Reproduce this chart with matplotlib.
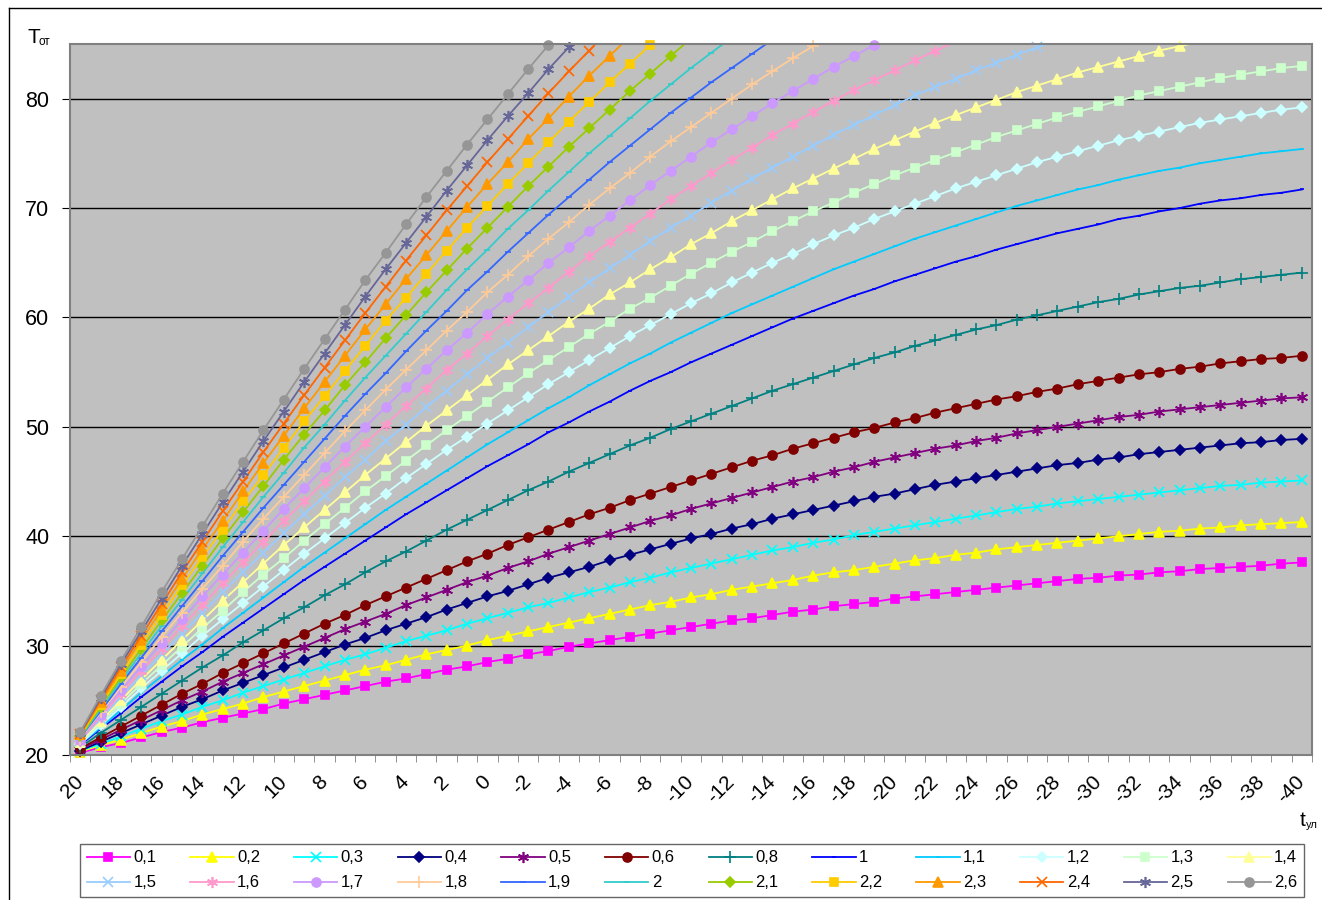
import numpy as np
import matplotlib
matplotlib.use('Agg')
import matplotlib.pyplot as plt
from matplotlib.lines import Line2D

# outdoor temperature categories, 20 .. -40
t_out = list(range(20, -41, -1))

# supply temperature per curve (points above 85 are cut off by the axis)
T_0_1 = [20.2, 20.7, 21.1, 21.6, 22.1, 22.5, 23.0, 23.4, 23.8, 24.2,
         24.7, 25.1, 25.5, 25.9, 26.3, 26.7, 27.0, 27.4, 27.8, 28.1,
         28.5, 28.8, 29.2, 29.5, 29.9, 30.2, 30.5, 30.8, 31.1, 31.4,
         31.7, 32.0, 32.3, 32.5, 32.8, 33.1, 33.3, 33.6, 33.8, 34.0,
         34.3, 34.5, 34.7, 34.9, 35.1, 35.3, 35.5, 35.7, 35.9, 36.1,
         36.2, 36.4, 36.5, 36.7, 36.8, 37.0, 37.1, 37.2, 37.3, 37.5, 37.6]
T_0_2 = [20.3, 20.9, 21.4, 22.0, 22.6, 23.1, 23.7, 24.2, 24.7, 25.3,
         25.8, 26.3, 26.8, 27.3, 27.8, 28.2, 28.7, 29.2, 29.6, 30.0,
         30.5, 30.9, 31.3, 31.7, 32.1, 32.5, 32.9, 33.3, 33.7, 34.0,
         34.4, 34.7, 35.1, 35.4, 35.7, 36.0, 36.4, 36.7, 36.9, 37.2,
         37.5, 37.8, 38.0, 38.3, 38.5, 38.8, 39.0, 39.2, 39.4, 39.6,
         39.8, 40.0, 40.2, 40.4, 40.5, 40.7, 40.8, 41.0, 41.1, 41.2, 41.3]
T_0_3 = [20.4, 21.0, 21.7, 22.4, 23.1, 23.7, 24.4, 25.0, 25.7, 26.3,
         26.9, 27.5, 28.1, 28.7, 29.2, 29.8, 30.4, 30.9, 31.4, 32.0,
         32.5, 33.0, 33.5, 33.9, 34.4, 34.9, 35.3, 35.8, 36.2, 36.7,
         37.1, 37.5, 37.9, 38.3, 38.7, 39.0, 39.4, 39.7, 40.1, 40.4,
         40.7, 41.0, 41.3, 41.6, 41.9, 42.2, 42.5, 42.7, 43.0, 43.2,
         43.4, 43.6, 43.8, 44.0, 44.2, 44.4, 44.6, 44.7, 44.9, 45.0, 45.1]
T_0_4 = [20.4, 21.2, 22.0, 22.8, 23.6, 24.4, 25.1, 25.9, 26.6, 27.3,
         28.0, 28.7, 29.4, 30.1, 30.7, 31.4, 32.0, 32.6, 33.3, 33.9,
         34.5, 35.0, 35.6, 36.2, 36.7, 37.2, 37.8, 38.3, 38.8, 39.3,
         39.8, 40.2, 40.7, 41.1, 41.6, 42.0, 42.4, 42.8, 43.2, 43.6,
         43.9, 44.3, 44.7, 45.0, 45.3, 45.6, 45.9, 46.2, 46.5, 46.7,
         47.0, 47.2, 47.5, 47.7, 47.9, 48.1, 48.3, 48.5, 48.6, 48.8, 48.9]
T_0_5 = [20.5, 21.4, 22.3, 23.2, 24.1, 25.0, 25.8, 26.7, 27.5, 28.3,
         29.1, 29.9, 30.7, 31.5, 32.2, 32.9, 33.7, 34.4, 35.1, 35.8,
         36.4, 37.1, 37.7, 38.4, 39.0, 39.6, 40.2, 40.8, 41.4, 41.9,
         42.5, 43.0, 43.5, 44.0, 44.5, 45.0, 45.4, 45.9, 46.3, 46.8,
         47.2, 47.6, 48.0, 48.3, 48.7, 49.0, 49.4, 49.7, 50.0, 50.3,
         50.6, 50.9, 51.1, 51.4, 51.6, 51.8, 52.0, 52.2, 52.4, 52.6, 52.7]
T_0_6 = [20.6, 21.6, 22.6, 23.6, 24.6, 25.6, 26.5, 27.5, 28.4, 29.3,
         30.2, 31.1, 32.0, 32.8, 33.7, 34.5, 35.3, 36.1, 36.9, 37.7,
         38.4, 39.2, 39.9, 40.6, 41.3, 42.0, 42.6, 43.3, 43.9, 44.5,
         45.1, 45.7, 46.3, 46.9, 47.4, 48.0, 48.5, 49.0, 49.5, 49.9,
         50.4, 50.8, 51.3, 51.7, 52.1, 52.5, 52.8, 53.2, 53.5, 53.9,
         54.2, 54.5, 54.8, 55.0, 55.3, 55.5, 55.8, 56.0, 56.2, 56.3, 56.5]
T_0_8 = [20.7, 22.0, 23.2, 24.4, 25.6, 26.8, 28.0, 29.1, 30.3, 31.4,
         32.5, 33.5, 34.6, 35.6, 36.7, 37.7, 38.6, 39.6, 40.6, 41.5,
         42.4, 43.3, 44.2, 45.0, 45.9, 46.7, 47.5, 48.3, 49.0, 49.8,
         50.5, 51.2, 51.9, 52.6, 53.3, 53.9, 54.5, 55.1, 55.7, 56.3,
         56.8, 57.4, 57.9, 58.4, 58.9, 59.3, 59.8, 60.2, 60.6, 61.0,
         61.4, 61.7, 62.1, 62.4, 62.7, 62.9, 63.2, 63.5, 63.7, 63.9, 64.1]
T_1_0 = [20.9, 22.4, 23.8, 25.3, 26.7, 28.1, 29.4, 30.8, 32.1, 33.4,
         34.7, 36.0, 37.2, 38.4, 39.6, 40.8, 42.0, 43.1, 44.2, 45.3,
         46.4, 47.4, 48.4, 49.5, 50.4, 51.4, 52.3, 53.3, 54.2, 55.0,
         55.9, 56.7, 57.5, 58.3, 59.1, 59.9, 60.6, 61.3, 62.0, 62.6,
         63.3, 63.9, 64.5, 65.1, 65.6, 66.2, 66.7, 67.2, 67.7, 68.1,
         68.5, 69.0, 69.3, 69.7, 70.0, 70.4, 70.7, 70.9, 71.2, 71.4, 71.7]
T_1_1 = [21.0, 22.5, 24.1, 25.7, 27.2, 28.7, 30.1, 31.6, 33.0, 34.4,
         35.8, 37.2, 38.5, 39.8, 41.1, 42.4, 43.6, 44.8, 46.0, 47.2,
         48.4, 49.5, 50.6, 51.7, 52.7, 53.8, 54.8, 55.8, 56.7, 57.7,
         58.6, 59.5, 60.4, 61.2, 62.0, 62.8, 63.6, 64.4, 65.1, 65.8,
         66.5, 67.2, 67.8, 68.4, 69.0, 69.6, 70.2, 70.7, 71.2, 71.7,
         72.1, 72.6, 73.0, 73.4, 73.7, 74.1, 74.4, 74.7, 75.0, 75.2, 75.4]
T_1_2 = [21.0, 22.7, 24.4, 26.1, 27.7, 29.3, 30.9, 32.4, 33.9, 35.4,
         36.9, 38.4, 39.8, 41.2, 42.6, 43.9, 45.3, 46.6, 47.9, 49.1,
         50.3, 51.5, 52.7, 53.9, 55.0, 56.1, 57.2, 58.3, 59.3, 60.3,
         61.3, 62.2, 63.2, 64.1, 65.0, 65.8, 66.7, 67.5, 68.2, 69.0,
         69.7, 70.4, 71.1, 71.8, 72.4, 73.0, 73.6, 74.2, 74.7, 75.2,
         75.7, 76.2, 76.6, 77.0, 77.4, 77.8, 78.1, 78.4, 78.7, 79.0, 79.2]
T_1_3 = [21.1, 22.9, 24.7, 26.5, 28.2, 29.9, 31.6, 33.2, 34.9, 36.5,
         38.0, 39.6, 41.1, 42.6, 44.1, 45.5, 46.9, 48.3, 49.7, 51.0,
         52.3, 53.6, 54.9, 56.1, 57.3, 58.5, 59.6, 60.8, 61.8, 62.9,
         64.0, 65.0, 66.0, 66.9, 67.9, 68.8, 69.7, 70.5, 71.4, 72.2,
         73.0, 73.7, 74.4, 75.1, 75.8, 76.5, 77.1, 77.7, 78.3, 78.8,
         79.3, 79.8, 80.3, 80.7, 81.1, 81.5, 81.9, 82.2, 82.5, 82.8, 83.0]
T_1_4 = [21.2, 23.1, 25.0, 26.9, 28.7, 30.5, 32.3, 34.1, 35.8, 37.5,
         39.2, 40.8, 42.4, 44.0, 45.6, 47.1, 48.6, 50.1, 51.5, 52.9,
         54.3, 55.7, 57.0, 58.3, 59.6, 60.8, 62.1, 63.2, 64.4, 65.5,
         66.7, 67.7, 68.8, 69.8, 70.8, 71.8, 72.7, 73.6, 74.5, 75.4,
         76.2, 77.0, 77.8, 78.5, 79.2, 79.9, 80.6, 81.2, 81.8, 82.4,
         82.9, 83.4, 83.9, 84.4, 84.8, 85.2]
T_1_5 = [21.3, 23.3, 25.3, 27.3, 29.2, 31.1, 33.0, 34.9, 36.7, 38.5,
         40.3, 42.0, 43.7, 45.4, 47.0, 48.7, 50.2, 51.8, 53.3, 54.8,
         56.3, 57.7, 59.1, 60.5, 61.9, 63.2, 64.5, 65.7, 67.0, 68.2,
         69.3, 70.5, 71.6, 72.7, 73.7, 74.7, 75.7, 76.7, 77.6, 78.5,
         79.4, 80.3, 81.1, 81.8, 82.6, 83.3, 84.0, 84.7, 85.3]
T_1_6 = [21.3, 23.5, 25.6, 27.7, 29.7, 31.8, 33.7, 35.7, 37.6, 39.5,
         41.4, 43.2, 45.0, 46.8, 48.5, 50.2, 51.9, 53.5, 55.2, 56.7,
         58.3, 59.8, 61.3, 62.7, 64.2, 65.6, 66.9, 68.2, 69.5, 70.8,
         72.0, 73.2, 74.4, 75.5, 76.7, 77.7, 78.8, 79.8, 80.8, 81.7,
         82.6, 83.5, 84.4, 85.2]
T_1_7 = [21.4, 23.7, 25.9, 28.1, 30.2, 32.4, 34.5, 36.5, 38.5, 40.5,
         42.5, 44.4, 46.3, 48.2, 50.0, 51.8, 53.6, 55.3, 57.0, 58.6,
         60.3, 61.9, 63.4, 65.0, 66.4, 67.9, 69.3, 70.7, 72.1, 73.4,
         74.7, 76.0, 77.2, 78.4, 79.6, 80.7, 81.8, 82.9, 83.9, 84.9, 85.9]
T_1_8 = [21.5, 23.9, 26.2, 28.5, 30.8, 33.0, 35.2, 37.3, 39.5, 41.6,
         43.6, 45.6, 47.6, 49.6, 51.5, 53.4, 55.2, 57.0, 58.8, 60.5,
         62.3, 63.9, 65.6, 67.2, 68.7, 70.3, 71.8, 73.2, 74.7, 76.1,
         77.4, 78.7, 80.0, 81.3, 82.5, 83.7, 84.8, 85.9]
T_1_9 = [21.6, 24.0, 26.5, 28.9, 31.3, 33.6, 35.9, 38.2, 40.4, 42.6,
         44.7, 46.8, 48.9, 51.0, 53.0, 54.9, 56.9, 58.8, 60.6, 62.5,
         64.2, 66.0, 67.7, 69.4, 71.0, 72.6, 74.2, 75.7, 77.2, 78.7,
         80.1, 81.5, 82.8, 84.1, 85.4]
T_2_0 = [21.6, 24.2, 26.8, 29.3, 31.8, 34.2, 36.6, 39.0, 41.3, 43.6,
         45.8, 48.1, 50.2, 52.4, 54.5, 56.5, 58.5, 60.5, 62.5, 64.4,
         66.2, 68.1, 69.8, 71.6, 73.3, 75.0, 76.6, 78.2, 79.8, 81.3,
         82.8, 84.2, 85.6]
T_2_1 = [21.7, 24.4, 27.1, 29.7, 32.3, 34.8, 37.3, 39.8, 42.2, 44.6,
         47.0, 49.3, 51.5, 53.8, 55.9, 58.1, 60.2, 62.3, 64.3, 66.3,
         68.2, 70.1, 72.0, 73.8, 75.6, 77.3, 79.0, 80.7, 82.3, 83.9, 85.5]
T_2_2 = [21.8, 24.6, 27.4, 30.1, 32.8, 35.5, 38.1, 40.6, 43.2, 45.6,
         48.1, 50.5, 52.8, 55.1, 57.4, 59.7, 61.8, 64.0, 66.1, 68.2,
         70.2, 72.2, 74.1, 76.0, 77.9, 79.7, 81.5, 83.2, 84.9, 86.6]
T_2_3 = [21.9, 24.8, 27.7, 30.5, 33.3, 36.1, 38.8, 41.4, 44.1, 46.7,
         49.2, 51.7, 54.1, 56.5, 58.9, 61.2, 63.5, 65.7, 67.9, 70.1,
         72.2, 74.2, 76.3, 78.2, 80.2, 82.1, 83.9, 85.7]
T_2_4 = [21.9, 25.0, 28.0, 30.9, 33.8, 36.7, 39.5, 42.3, 45.0, 47.7,
         50.3, 52.9, 55.4, 57.9, 60.4, 62.8, 65.2, 67.5, 69.8, 72.0,
         74.2, 76.3, 78.4, 80.5, 82.5, 84.4, 86.3]
T_2_5 = [22.0, 25.2, 28.3, 31.3, 34.3, 37.3, 40.2, 43.1, 45.9, 48.7,
         51.4, 54.1, 56.7, 59.3, 61.9, 64.4, 66.8, 69.2, 71.6, 73.9,
         76.2, 78.4, 80.5, 82.7, 84.7, 86.8]
T_2_6 = [22.1, 25.4, 28.6, 31.7, 34.9, 37.9, 40.9, 43.9, 46.8, 49.7,
         52.5, 55.3, 58.0, 60.7, 63.4, 65.9, 68.5, 71.0, 73.4, 75.8,
         78.1, 80.4, 82.7, 84.9, 87.0]

labels = ['0,1', '0,2', '0,3', '0,4', '0,5', '0,6', '0,8', '1', '1,1', '1,2', '1,3', '1,4',
          '1,5', '1,6', '1,7', '1,8', '1,9', '2', '2,1', '2,2', '2,3', '2,4', '2,5', '2,6']
series = [T_0_1, T_0_2, T_0_3, T_0_4, T_0_5, T_0_6, T_0_8, T_1_0, T_1_1, T_1_2, T_1_3, T_1_4,
          T_1_5, T_1_6, T_1_7, T_1_8, T_1_9, T_2_0, T_2_1, T_2_2, T_2_3, T_2_4, T_2_5, T_2_6]

colors = ['#FF00FF', '#FFFF00', '#00FFFF', '#000080', '#800080', '#800000',
          '#008080', '#0000FF', '#00CCFF', '#CCFFFF', '#CCFFCC', '#FFFF99',
          '#99CCFF', '#FF99CC', '#CC99FF', '#FFCC99', '#3366FF', '#33CCCC',
          '#99CC00', '#FFCC00', '#FF9900', '#FF6600', '#666699', '#969696']
star = (6, 2, 0)
markers = ['s', '^', 'x', 'D', star, 'o', '+', '_', '_', 'D', 's', '^',
           'x', star, 'o', '+', '_', '_', 'D', 's', '^', 'x', star, 'o']
msize = [5.5, 6.5, 7, 5, 8, 6.5, 8, 3, 3, 5, 5.5, 6.5,
         7, 8, 6.5, 8, 4, 5, 5, 5.5, 6.5, 7, 8, 6.5]

plt.rcParams['font.family'] = ['Liberation Sans', 'DejaVu Sans']
fig = plt.figure(figsize=(13.22, 9), dpi=100)
ax = fig.add_axes([70 / 1322, 1 - 755 / 900, 1242 / 1322, 711 / 900])
ax.set_facecolor('#C0C0C0')

handles = []
for k, vals in enumerate(series):
    x = np.arange(len(vals))
    y = np.array(vals)
    ax.plot(x, y, color=colors[k], lw=1.3)
    # markers like Excel: not cut at the border, but none above the axis max
    keep = y <= 85
    ax.plot(x[keep], y[keep], ls='none', marker=markers[k], ms=msize[k],
            mfc=colors[k], mec=colors[k], mew=1.2, clip_on=False)
    handles.append(Line2D([], [], color=colors[k], lw=1.3, marker=markers[k], ms=msize[k],
                          mfc=colors[k], mec=colors[k], mew=1.2))

idx = np.arange(len(t_out))
ax.set_xlim(-0.5, 60.5)
ax.set_ylim(20, 85)
ax.set_yticks(range(20, 81, 10))
ax.set_xticks(idx[::2])
ax.set_xticklabels([str(t) for t in t_out[::2]], rotation=45, ha='right', va='center',
                   rotation_mode='anchor', fontsize=15)
ax.set_xticks(np.arange(-0.5, 61, 1), minor=True)
ax.tick_params(axis='x', which='major', length=0, pad=17)
ax.tick_params(axis='x', which='minor', length=5, color='#808080')
ax.tick_params(axis='y', length=6, labelsize=15.5, pad=9)
ax.grid(axis='y', color='black', lw=1)
ax.set_axisbelow(True)
for s in ax.spines.values():
    s.set_color('#808080')
    s.set_linewidth(1.5)

fig.text(28 / 1322, 1 - 43 / 900, 'T', fontsize=15)
fig.text(38.5 / 1322, 1 - 45 / 900, 'от', fontsize=8.5)
fig.text(1300 / 1322, 1 - 826 / 900, 't', fontsize=15)
fig.text(1306 / 1322, 1 - 828 / 900, 'ул', fontsize=8)

# chart area border (left and top edges are inside the picture)
fig.add_artist(Line2D([9 / 1322, 9 / 1322], [0, 1 - 8 / 900], color='black', lw=1))
fig.add_artist(Line2D([9 / 1322, 1], [1 - 8 / 900, 1 - 8 / 900], color='black', lw=1))

# legend filled row by row, 12 per row
order = []
for j in range(12):
    order += [j, j + 12]
leg = fig.legend([handles[o] for o in order], [labels[o] for o in order], ncol=12,
                 loc='lower left', bbox_to_anchor=(80 / 1322, 3 / 900, 1224 / 1322, 65 / 900),
                 mode='expand', frameon=True, fancybox=False, fontsize=12,
                 handlelength=2.6, handletextpad=0.2, borderaxespad=0, labelspacing=0.6)
leg.get_frame().set_edgecolor('#404040')
leg.get_frame().set_linewidth(1)

fig.savefig('out.png', dpi=100)
